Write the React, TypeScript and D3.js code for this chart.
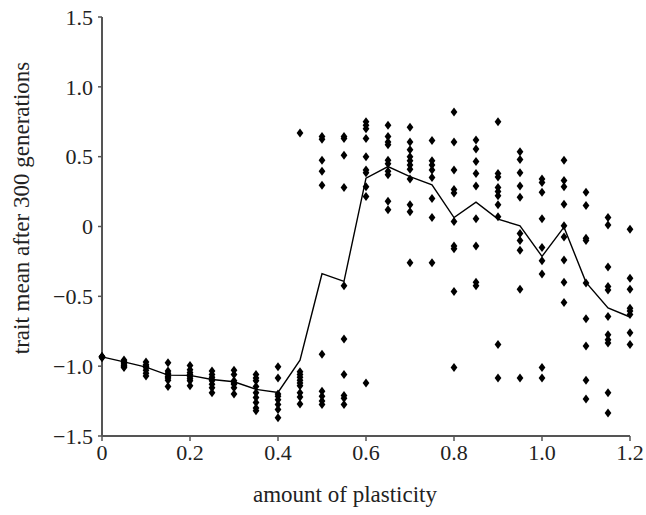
import React from "react";
import * as d3 from "d3";

// plasticity levels on the x axis
const plasticity = [0, 0.05, 0.1, 0.15, 0.2, 0.25, 0.3, 0.35, 0.4, 0.45, 0.5, 0.55, 0.6, 0.65, 0.7, 0.75, 0.8, 0.85, 0.9, 0.95, 1.0, 1.05, 1.1, 1.15, 1.2];

// replicate trait means after 300 generations, one list per plasticity level
const replicates: number[][] = [
  [-0.93, -0.93, -0.935, -0.94],
  [-0.955, -0.965, -0.975, -0.985, -0.995, -1.005, -1.01],
  [-0.97, -0.99, -1.0, -1.01, -1.03, -1.05, -1.07],
  [-0.975, -1.035, -1.05, -1.06, -1.075, -1.085, -1.1, -1.145],
  [-0.995, -1.025, -1.045, -1.06, -1.075, -1.09, -1.105, -1.14],
  [-1.035, -1.06, -1.08, -1.095, -1.105, -1.13, -1.155, -1.19],
  [-1.03, -1.06, -1.105, -1.12, -1.13, -1.155, -1.2],
  [-1.06, -1.085, -1.105, -1.145, -1.19, -1.225, -1.26, -1.3, -1.32],
  [-1.005, -1.085, -1.2, -1.215, -1.24, -1.275, -1.31, -1.37],
  [0.67, -1.04, -1.06, -1.08, -1.1, -1.12, -1.14, -1.19, -1.22, -1.27],
  [0.645, 0.625, 0.475, 0.395, 0.295, -0.915, -1.18, -1.215, -1.25, -1.275],
  [0.645, 0.63, 0.51, 0.28, -0.425, -0.805, -1.06, -1.21, -1.23, -1.275],
  [0.75, 0.725, 0.7, 0.63, 0.5, 0.405, 0.385, 0.285, 0.215, -1.12],
  [0.725, 0.645, 0.605, 0.585, 0.475, 0.45, 0.395, 0.37, 0.18, 0.12],
  [0.71, 0.605, 0.55, 0.5, 0.47, 0.44, 0.41, 0.34, 0.155, 0.105, -0.26],
  [0.615, 0.47, 0.44, 0.405, 0.35, 0.2, 0.065, -0.26],
  [0.82, 0.605, 0.405, 0.265, 0.24, 0.035, -0.14, -0.16, -0.465, -1.01],
  [0.62, 0.555, 0.465, 0.38, 0.29, 0.055, -0.14, -0.4, -0.425],
  [0.75, 0.38, 0.355, 0.28, 0.25, 0.22, 0.155, 0.07, -0.845, -1.085],
  [0.535, 0.48, 0.385, 0.29, 0.21, -0.05, -0.1, -0.17, -0.45, -1.085],
  [0.34, 0.315, 0.245, 0.055, -0.15, -0.245, -0.34, -1.01, -1.085],
  [0.475, 0.33, 0.285, 0.16, 0.005, -0.075, -0.24, -0.4, -0.545],
  [0.245, 0.15, -0.085, -0.1, -0.405, -0.66, -0.855, -1.1, -1.235],
  [0.065, 0.01, -0.29, -0.43, -0.455, -0.645, -0.775, -0.81, -0.835, -1.19, -1.335],
  [-0.02, -0.37, -0.45, -0.585, -0.605, -0.63, -0.76, -0.845],
];

// mean line as drawn in the figure
const meanTrait = [-0.933, -0.969, -1.007, -1.064, -1.066, -1.095, -1.112, -1.166, -1.188, -0.957, -0.338, -0.393, 0.346, 0.429, 0.357, 0.298, 0.064, 0.174, 0.053, 0.005, -0.214, -0.005, -0.4, -0.583, -0.648];

const xTicks = [0, 0.2, 0.4, 0.6, 0.8, 1.0, 1.2];
const xTickLabels = ["0", "0.2", "0.4", "0.6", "0.8", "1.0", "1.2"];
const yTicks = [1.5, 1.0, 0.5, 0, -0.5, -1.0, -1.5];
const yTickLabels = ["1.5", "1.0", "0.5", "0", "\u22120.5", "\u22121.0", "\u22121.5"];

const W = 646;
const H = 515;
const left = 102;
const right = 630;
const top = 17;
const bottom = 436;
const axisColor = "#555";
const font = "'Liberation Serif', 'Times New Roman', serif";

function App() {
  const x = d3.scaleLinear().domain([0, 1.2]).range([left, right]);
  const y = d3.scaleLinear().domain([-1.5, 1.5]).range([bottom, top]);

  const pts = plasticity.flatMap((p, i) => replicates[i].map((v) => ({ p, v })));
  const diamond = "M0,-4.5L3.4,0L0,4.5L-3.4,0Z";

  const meanLine = d3
    .line<number>()
    .x((_, i) => x(plasticity[i]))
    .y((d) => y(d))(meanTrait);

  return (
    <svg width={W} height={H} style={{ position: "absolute", left: 0, top: 0 }}>
      <rect width={W} height={H} fill="#fff" />
      {/* axes */}
      <line x1={left} x2={left} y1={top} y2={bottom} stroke={axisColor} strokeWidth={2} />
      <line x1={left} x2={right} y1={bottom} y2={bottom} stroke={axisColor} strokeWidth={2} />
      {yTicks.map((t, i) => (
        <g key={"y" + i}>
          <line x1={left - 4} x2={left} y1={y(t)} y2={y(t)} stroke={axisColor} strokeWidth={1.5} />
          <text x={left - 9} y={y(t)} dy="0.35em" textAnchor="end" fontFamily={font} fontSize={22} fill="#222">
            {yTickLabels[i]}
          </text>
        </g>
      ))}
      {xTicks.map((t, i) => (
        <g key={"x" + i}>
          <line x1={x(t)} x2={x(t)} y1={bottom} y2={bottom + 5} stroke={axisColor} strokeWidth={1.5} />
          <text x={x(t)} y={bottom + 24} textAnchor="middle" fontFamily={font} fontSize={22} fill="#222">
            {xTickLabels[i]}
          </text>
        </g>
      ))}
      <text
        transform={`translate(29,208) rotate(-90)`}
        textAnchor="middle"
        fontFamily={font}
        fontSize={23}
        fill="#222"
      >
        trait mean after 300 generations
      </text>
      <text x={345} y={502} textAnchor="middle" fontFamily={font} fontSize={23} fill="#222">
        amount of plasticity
      </text>
      {/* mean line */}
      <path d={meanLine || ""} fill="none" stroke="#000" strokeWidth={1.4} />
      {/* replicate points */}
      {pts.map((d, i) => (
        <path key={i} d={diamond} transform={`translate(${x(d.p)},${y(d.v)})`} fill="#000" />
      ))}
    </svg>
  );
}

export default App;
